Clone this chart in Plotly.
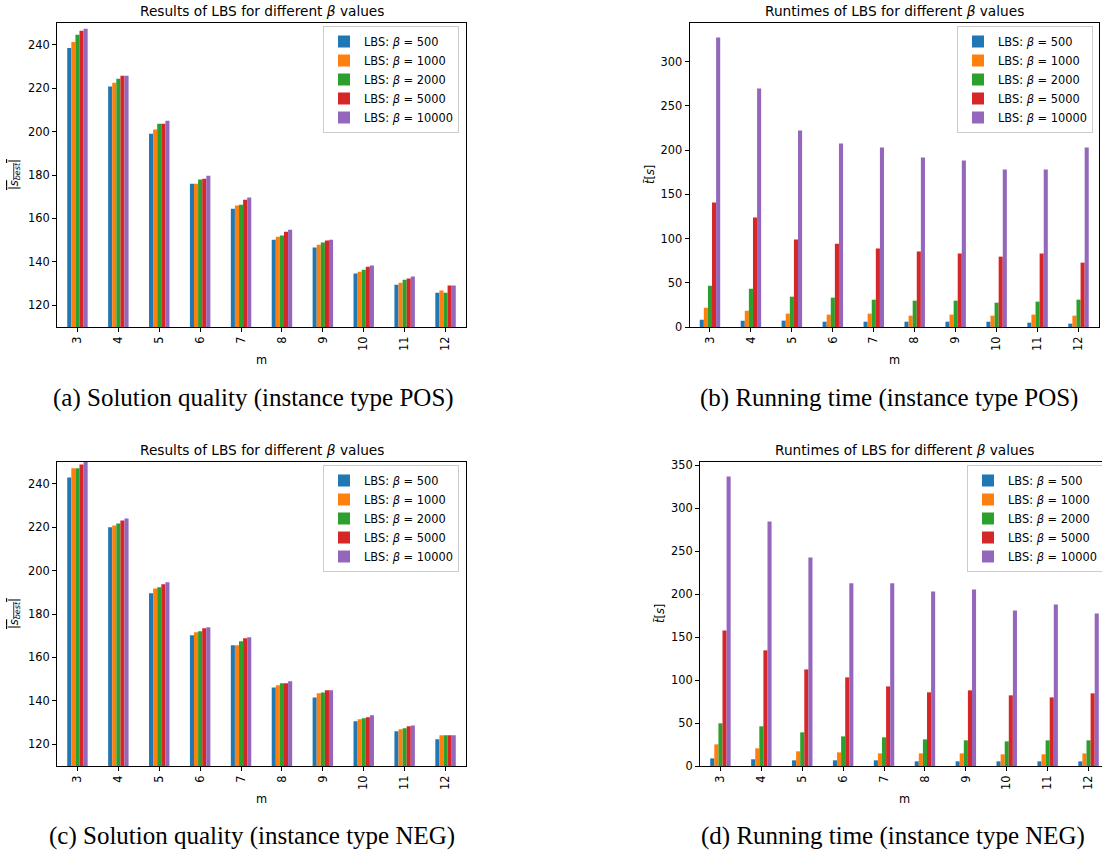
import plotly.graph_objects as go

# ---------------- data ----------------
m_values = ["3", "4", "5", "6", "7", "8", "9", "10", "11", "12"]
beta_labels = ["LBS: <i>β</i> = 500", "LBS: <i>β</i> = 1000", "LBS: <i>β</i> = 2000",
               "LBS: <i>β</i> = 5000", "LBS: <i>β</i> = 10000"]
colors = ["#1f77b4", "#ff7f0e", "#2ca02c", "#d62728", "#9467bd"]

# (a) solution quality, POS
pos_quality_500 = [238.5, 220.7, 199.0, 176.0, 164.5, 150.2, 146.6, 134.6, 129.5, 125.8]
pos_quality_1000 = [241.2, 222.5, 200.9, 176.0, 165.9, 151.6, 147.9, 135.5, 130.4, 126.8]
pos_quality_2000 = [244.6, 224.3, 203.6, 177.9, 166.3, 152.1, 148.9, 136.4, 131.8, 125.8]
pos_quality_5000 = [246.4, 225.7, 203.6, 178.3, 168.6, 153.9, 149.8, 137.8, 132.3, 129.1]
pos_quality_10000 = [247.4, 225.7, 205.0, 179.7, 169.6, 154.8, 150.2, 138.3, 133.2, 129.1]

# (b) running time, POS
pos_time_500 = [8.3, 7.2, 7.2, 6.0, 6.0, 6.0, 6.0, 6.0, 4.9, 3.8]
pos_time_1000 = [21.9, 18.5, 15.1, 14.0, 15.1, 12.8, 14.0, 12.8, 14.0, 12.8]
pos_time_2000 = [46.8, 43.4, 34.3, 33.2, 30.9, 29.8, 29.8, 27.5, 28.7, 30.9]
pos_time_5000 = [140.8, 123.8, 98.9, 94.3, 88.7, 85.3, 83.0, 79.6, 83.0, 72.8]
pos_time_10000 = [327.5, 269.8, 222.3, 207.5, 203.0, 191.7, 188.3, 178.1, 178.1, 203.0]

# (c) solution quality, NEG
neg_quality_500 = [242.9, 219.9, 189.5, 170.2, 165.6, 146.2, 141.6, 130.6, 126.0, 122.3]
neg_quality_1000 = [247.1, 220.8, 191.8, 171.6, 165.6, 147.2, 143.5, 131.5, 126.9, 124.2]
neg_quality_2000 = [247.1, 221.7, 192.3, 172.0, 167.4, 148.1, 143.9, 132.0, 127.4, 124.2]
neg_quality_5000 = [248.9, 223.1, 193.7, 173.4, 168.8, 148.1, 144.9, 132.4, 128.3, 124.2]
neg_quality_10000 = [250.5, 224.0, 194.6, 173.9, 169.3, 149.0, 144.9, 133.4, 128.7, 124.2]

# (d) running time, NEG
neg_time_500 = [8.9, 7.8, 6.6, 6.6, 6.6, 5.4, 5.4, 5.4, 5.4, 5.4]
neg_time_1000 = [25.2, 20.6, 17.1, 15.9, 14.7, 14.7, 14.7, 13.6, 13.6, 14.7]
neg_time_2000 = [49.7, 46.2, 39.2, 34.5, 33.4, 31.0, 29.9, 28.7, 29.9, 29.9]
neg_time_5000 = [157.9, 134.7, 112.5, 103.2, 92.7, 85.8, 88.1, 82.3, 79.9, 84.6]
neg_time_10000 = [337.2, 284.8, 242.9, 212.7, 212.7, 203.3, 205.7, 181.2, 188.2, 177.7]

panel_series = [
    [pos_quality_500, pos_quality_1000, pos_quality_2000, pos_quality_5000, pos_quality_10000],
    [pos_time_500, pos_time_1000, pos_time_2000, pos_time_5000, pos_time_10000],
    [neg_quality_500, neg_quality_1000, neg_quality_2000, neg_quality_5000, neg_quality_10000],
    [neg_time_500, neg_time_1000, neg_time_2000, neg_time_5000, neg_time_10000],
]
panel_titles = ["Results of LBS for different <i>β</i> values",
                "Runtimes of LBS for different <i>β</i> values",
                "Results of LBS for different <i>β</i> values",
                "Runtimes of LBS for different <i>β</i> values"]
y_labels = ["<span style='text-decoration:overline'>|<i>s</i><sub><i>best</i></sub>|</span>",
            "<i>t\u0304</i>[<i>s</i>]",
            "<span style='text-decoration:overline'>|<i>s</i><sub><i>best</i></sub>|</span>",
            "<i>t\u0304</i>[<i>s</i>]"]
captions = ["(a) Solution quality (instance type POS)",
            "(b) Running time (instance type POS)",
            "(c) Solution quality (instance type NEG)",
            "(d) Running time (instance type NEG)"]

# ---------------- layout geometry (page pixels) ----------------
W, H = 1102, 852
FONT = "DejaVu Sans"
TICK_FS = 11.4
TITLE_FS = 13.7


def px(x):
    return x / W


def py(y):
    return 1 - y / H


# left, right, top, bottom of each axes box (page pixels)
boxes = [
    (57, 466, 23, 327),
    (689.5, 1099, 23, 327),
    (57, 466, 462, 766),
    (700, 1102, 462, 766),
]
full_right = [466, 1099, 466, 1109]
legend_right = [459, 1093, 459, 1103]
ylabel_x = [14, 650, 14, 660]
caption_pos = [(253, 398), (889, 398), (252, 836), (893, 836)]

fig = go.Figure()

annotations = []
for i, series in enumerate(panel_series):
    ax = "" if i == 0 else str(i + 1)
    leg = "legend" if i == 0 else "legend%d" % (i + 1)
    for j, vals in enumerate(series):
        fig.add_trace(go.Bar(
            x=m_values, y=vals, name=beta_labels[j],
            marker=dict(color=colors[j], line=dict(width=0)),
            xaxis="x" + ax, yaxis="y" + ax, legend=leg,
        ))
    l, r, t, b = boxes[i]
    fr = full_right[i]
    cat_px = (fr - l) / 10.0
    x_hi = -0.5 + (r - l) / cat_px
    is_quality = i in (0, 2)
    if is_quality:
        yr = [110, 250]
        dtick = 20
    else:
        ymax = max(max(s) for s in series) * 1.05
        yr = [0, ymax]
        dtick = 50
    fig.update_layout(**{
        "xaxis" + ax: dict(
            domain=[px(l), min(px(r), 1.0)], anchor="y" + ax, type="category",
            range=[-0.5, x_hi], showline=True, linecolor="black", linewidth=1,
            mirror=True, ticks="outside", ticklen=4, tickwidth=1, tickcolor="black",
            tickangle=-90, showgrid=False, zeroline=False,
            tickfont=dict(family=FONT, size=TICK_FS, color="black"),
        ),
        "yaxis" + ax: dict(
            domain=[py(b), py(t)], anchor="x" + ax, range=yr, dtick=dtick, tick0=0,
            showline=True, linecolor="black", linewidth=1, mirror=(i != 3),
            ticks="outside", ticklen=4, tickwidth=1, tickcolor="black",
            showgrid=False, zeroline=False,
            tickfont=dict(family=FONT, size=TICK_FS, color="black"),
        ),
        leg: dict(
            x=px(legend_right[i]), y=py(t + 3), xanchor="right", yanchor="top",
            bgcolor="rgba(255,255,255,0.8)", bordercolor="#cccccc", borderwidth=1,
            font=dict(family=FONT, size=TICK_FS, color="black"), tracegroupgap=0,
        ),
    })
    cx = (l + fr) / 2.0
    # title
    annotations.append(dict(x=px(cx), y=py(t - 12), xref="paper", yref="paper",
                            text=panel_titles[i], showarrow=False,
                            font=dict(family=FONT, size=TITLE_FS, color="black"),
                            xanchor="center", yanchor="middle"))
    # x axis title
    annotations.append(dict(x=px(cx), y=py(b + 33), xref="paper", yref="paper",
                            text="m", showarrow=False,
                            font=dict(family=FONT, size=TICK_FS, color="black"),
                            xanchor="center", yanchor="middle"))
    # y axis title
    annotations.append(dict(x=px(ylabel_x[i]), y=py((t + b) / 2.0), xref="paper", yref="paper",
                            text=y_labels[i], showarrow=False, textangle=-90,
                            font=dict(family=FONT, size=TICK_FS, color="black"),
                            xanchor="center", yanchor="middle"))
    # caption
    cxp, cyp = caption_pos[i]
    annotations.append(dict(x=px(cxp), y=py(cyp), xref="paper", yref="paper",
                            text=captions[i], showarrow=False,
                            font=dict(family="Liberation Serif", size=25, color="black"),
                            xanchor="center", yanchor="middle"))

fig.update_layout(
    width=W, height=H,
    margin=dict(l=0, r=0, t=0, b=0, autoexpand=False),
    paper_bgcolor="white", plot_bgcolor="white",
    barmode="group", bargap=0.5, bargroupgap=0,
    annotations=annotations,
    font=dict(family=FONT, color="black"),
)

fig.write_html(
    "out.html",
    config={"displayModeBar": False},
    post_script="document.body.style.margin='0px';document.body.style.overflow='hidden';",
)
